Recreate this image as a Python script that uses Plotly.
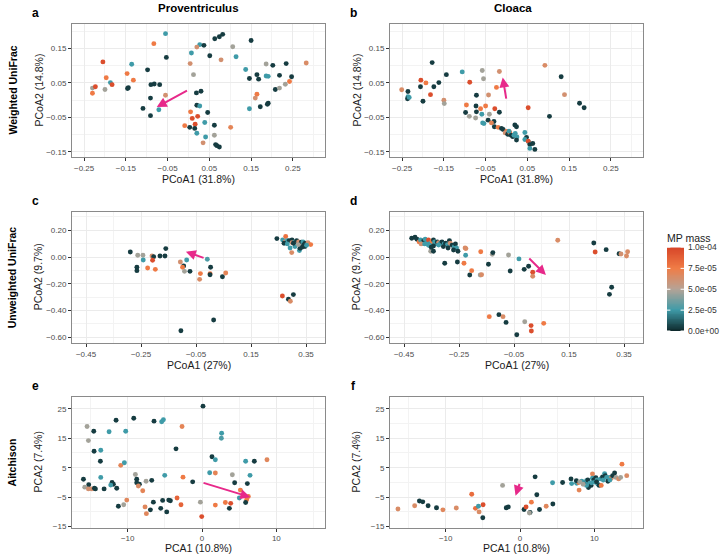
import plotly.graph_objects as go

# ---------------- data (x, y, MP mass in units of 1e-5) ----------------
prov_weighted = [
    (-0.055,0.193,2.5),(-0.083,0.164,7.6),(0.027,0.161,2.5),(0.007,0.137,2.5),(0.020,0.154,6.2),
    (0.037,0.159,0.4),(0.063,0.178,0.4),(0.074,0.184,0.4),(0.082,0.191,0.4),(0.106,0.155,4.6),
    (0.150,0.173,0.4),(-0.053,0.124,0.4),(-0.205,0.111,9.6),(-0.136,0.104,2.5),(0.004,0.106,6.2),
    (0.051,0.129,0.4),(0.078,0.117,6.2),(0.114,0.126,2.5),(-0.098,0.088,0.4),(-0.147,0.077,7.6),
    (0.012,0.074,4.6),(0.137,0.089,2.5),(0.164,0.074,0.4),(0.186,0.105,4.6),(0.202,0.101,0.4),
    (0.234,0.106,0.4),(-0.197,0.065,7.6),(-0.132,0.058,7.6),(-0.187,0.051,2.5),(-0.183,0.045,9.6),
    (-0.090,0.045,0.4),(-0.082,0.047,0.4),(-0.069,0.045,0.4),(-0.230,0.035,4.6),(-0.223,0.039,9.6),
    (-0.200,0.031,4.6),(-0.144,0.036,0.4),(-0.146,0.034,0.4),(0.146,0.063,0.4),(0.168,0.061,0.4),
    (0.186,0.070,2.5),(0.191,0.069,2.5),(0.218,0.072,0.4),(0.247,0.068,0.4),(0.242,0.054,7.6),
    (0.232,0.046,4.6),(0.282,0.108,6.5),(-0.230,0.020,7.6),(-0.055,0.014,6.2),(0.030,0.026,0.4),
    (0.019,0.021,0.4),(0.164,0.017,7.6),(0.160,0.006,6.2),(0.208,0.031,0.4),(0.218,0.035,4.6),
    (-0.091,0.006,0.4),(0.020,-0.015,0.4),(0.027,-0.017,2.5),(0.005,-0.034,7.6),(0.022,-0.047,9.6),
    (0.009,-0.053,9.6),(0.046,-0.036,0.4),(-0.109,-0.024,0.4),(-0.071,-0.028,2.5),(-0.091,-0.045,0.4),
    (0.146,-0.025,2.5),(0.172,-0.019,0.4),(0.191,-0.009,0.4),(0.189,-0.012,0.4),(-0.009,-0.074,7.6),
    (0.003,-0.079,0.4),(0.016,-0.070,9.6),(0.015,-0.082,0.4),(0.039,-0.065,2.5),(0.062,-0.073,0.4),
    (0.101,-0.079,7.0),(0.020,-0.096,2.5),(0.041,-0.107,2.5),(0.062,-0.102,4.6),(0.035,-0.124,6.2),
    (0.065,-0.129,0.4),(0.068,-0.132,0.4),(0.074,-0.136,0.4),
]

cloaca_weighted = [
    (-0.178,0.109,0.4),(-0.106,0.082,2.5),(-0.058,0.086,4.6),(-0.055,0.062,4.6),(-0.017,0.083,6.2),
    (0.092,0.101,6.5),(-0.144,0.074,0.4),(0.131,0.068,0.4),(-0.251,0.030,6.5),(-0.236,0.025,0.4),
    (-0.236,0.010,2.5),(-0.237,0.004,0.4),(-0.233,0.008,2.5),(-0.205,0.058,9.6),(-0.193,0.050,7.6),
    (-0.206,0.039,0.4),(-0.174,0.039,0.4),(-0.162,0.051,0.4),(-0.182,0.016,9.6),(-0.200,-0.003,0.4),
    (-0.150,0.000,6.2),(-0.149,-0.010,4.6),(-0.088,0.052,9.6),(-0.024,0.037,7.6),(-0.043,0.015,6.2),
    (-0.072,0.014,0.4),(0.139,0.016,6.2),(0.175,-0.009,0.4),(0.186,-0.022,0.4),(0.103,-0.047,0.4),
    (-0.096,-0.014,7.6),(-0.073,-0.017,0.4),(-0.050,-0.017,7.6),(-0.062,-0.025,7.6),(-0.028,-0.025,9.6),
    (-0.017,-0.035,0.4),(-0.041,-0.041,4.6),(0.052,-0.022,9.6),(-0.098,-0.036,0.4),(-0.072,-0.034,0.4),
    (-0.089,-0.047,4.6),(-0.074,-0.052,4.6),(-0.059,-0.041,2.5),(-0.057,-0.066,2.5),(-0.054,-0.068,2.5),
    (-0.044,-0.058,0.4),(-0.030,-0.062,0.4),(-0.036,-0.066,7.0),(-0.029,-0.077,0.4),(-0.020,-0.079,7.6),
    (-0.012,-0.082,0.4),(-0.008,-0.085,0.4),(0.000,-0.091,7.6),(-0.003,-0.095,6.2),(0.003,-0.099,0.4),
    (0.008,-0.094,7.6),(0.011,-0.102,0.4),(0.015,-0.106,0.4),(0.018,-0.102,2.5),(0.021,-0.097,2.5),
    (0.025,-0.107,2.5),(0.020,-0.072,0.4),(0.024,-0.077,0.4),(0.006,-0.090,2.5),(0.044,-0.094,2.5),
    (0.048,-0.108,0.4),(0.044,-0.114,2.5),(0.053,-0.121,2.5),(0.052,-0.119,9.6),(0.056,-0.129,0.4),
    (0.063,-0.126,0.4),(0.056,-0.140,2.5),(0.068,-0.143,0.4),(0.024,-0.116,0.4),
]

prov_unweighted = [
    (-0.289,0.038,0.4),(-0.262,0.013,4.6),(-0.243,0.013,4.6),(-0.242,-0.022,2.5),(-0.265,-0.077,0.4),
    (-0.265,-0.102,0.4),(-0.210,0.008,6.2),(-0.204,0.003,0.4),(-0.181,0.008,0.4),(-0.163,0.008,0.4),
    (-0.160,0.063,0.4),(-0.208,-0.024,9.6),(-0.226,-0.082,7.6),(-0.198,-0.092,7.6),(-0.107,-0.037,6.2),
    (-0.095,-0.067,0.4),(-0.099,-0.077,7.6),(-0.092,-0.107,4.6),(-0.084,-0.022,2.5),(-0.072,-0.107,0.4),
    (-0.034,-0.124,7.6),(-0.037,-0.167,6.5),(-0.009,-0.017,2.8),(0.003,-0.077,0.4),(0.001,-0.124,7.6),
    (0.001,-0.132,0.4),(0.046,-0.147,0.4),(0.058,-0.119,7.0),(-0.105,-0.551,0.4),(0.014,-0.471,0.4),
    (0.264,-0.291,9.6),(0.304,-0.281,0.4),(0.286,-0.316,0.4),(0.293,-0.331,6.5),
    (0.244,0.138,0.4),(0.265,0.128,2.5),(0.276,0.153,8.0),(0.274,0.113,6.2),(0.282,0.123,2.5),
    (0.289,0.123,0.4),(0.299,0.128,0.4),(0.299,0.108,6.2),(0.309,0.113,2.5),(0.316,0.123,0.4),
    (0.323,0.113,6.2),(0.333,0.110,0.4),(0.339,0.113,2.5),(0.347,0.103,0.4),(0.357,0.108,6.2),
    (0.367,0.093,7.6),(0.270,0.103,0.4),(0.292,0.068,2.5),(0.298,0.033,6.5),(0.310,0.078,2.5),
    (0.326,0.048,2.5),(0.328,0.065,0.4),(0.335,0.073,0.4),(0.346,0.078,0.4),(0.343,0.093,0.4),
    (0.352,0.088,2.5),(0.322,0.093,4.6),(0.304,0.103,0.4),(0.282,0.098,2.5),
]

cloaca_unweighted = [
    (-0.422,0.140,0.4),(-0.410,0.148,0.4),(-0.403,0.133,0.4),(-0.395,0.113,7.6),(-0.390,0.128,2.5),
    (-0.383,0.103,2.5),(-0.378,0.123,0.4),(-0.373,0.133,2.5),(-0.365,0.113,2.5),(-0.361,0.128,9.6),
    (-0.354,0.103,2.5),(-0.348,0.118,7.6),(-0.343,0.128,0.4),(-0.339,0.113,2.5),(-0.334,0.098,2.5),
    (-0.329,0.113,0.4),(-0.324,0.108,6.2),(-0.317,0.103,2.5),(-0.312,0.113,0.4),(-0.304,0.098,2.5),
    (-0.299,0.103,0.4),(-0.292,0.093,2.5),(-0.285,0.123,0.4),(-0.282,0.103,6.2),(-0.275,0.088,0.4),
    (-0.267,0.078,2.5),(-0.263,0.098,0.4),(-0.259,0.068,2.5),(-0.270,0.053,0.4),(-0.254,0.043,0.4),
    (-0.353,0.043,4.6),(-0.343,0.043,0.4),(-0.343,0.083,0.4),(-0.388,0.098,6.2),(-0.375,0.098,2.5),
    (-0.361,0.088,2.5),(-0.351,0.073,0.4),(-0.324,0.090,2.5),(-0.307,0.078,0.4),(-0.290,0.068,0.4),
    (-0.302,-0.047,0.4),(-0.256,-0.037,0.4),(-0.228,0.068,6.5),(-0.225,0.063,6.5),(-0.226,0.013,2.5),
    (-0.232,-0.047,7.6),(-0.211,-0.134,0.4),(-0.204,-0.102,7.6),(-0.173,-0.134,4.6),(-0.168,-0.132,6.5),
    (-0.171,0.040,7.6),(-0.143,-0.054,0.4),(-0.129,0.020,4.6),(-0.127,0.033,0.4),(-0.070,0.015,4.6),
    (-0.032,-0.014,2.5),(-0.064,-0.104,0.4),(-0.013,-0.092,0.4),(0.003,-0.069,0.4),(0.018,-0.114,9.6),
    (0.018,-0.144,6.5),(0.109,0.125,6.5),(0.240,0.105,0.4),(0.245,0.038,9.6),(0.285,0.055,0.4),
    (0.332,0.025,0.4),(0.339,0.023,6.2),(0.359,0.008,6.5),(0.363,0.040,6.5),(0.297,-0.279,0.4),
    (0.305,-0.226,0.4),(-0.140,-0.446,7.6),(-0.105,-0.431,0.4),(-0.090,-0.446,6.5),(-0.079,-0.489,0.4),
    (-0.011,-0.484,4.6),(0.012,-0.513,9.6),(0.013,-0.553,9.6),(0.058,-0.496,7.6),(-0.040,-0.581,0.4),
]

prov_aitchison = [
    (0.13,25.9,0.4),(-15.47,19.0,4.6),(-11.57,21.1,0.4),(-9.19,21.8,0.4),(-6.46,20.8,0.4),
    (-5.43,20.6,2.5),(-5.20,21.3,2.5),(-2.69,19.0,7.0),(-14.57,17.4,0.4),(-15.29,14.2,4.6),
    (-12.51,17.2,2.5),(-10.27,17.4,2.5),(2.64,16.7,2.5),(2.60,15.0,2.8),(-14.53,10.6,0.4),
    (-13.63,10.9,2.5),(-13.68,7.2,0.4),(-3.50,11.4,0.4),(1.34,8.7,0.4),(1.79,7.7,2.5),
    (-10.94,5.8,7.0),(-10.45,6.7,2.5),(-13.63,1.7,2.5),(-15.96,1.1,0.4),(-15.25,-0.8,0.4),
    (-15.78,-1.6,4.6),(-15.29,-2.2,6.2),(-14.84,-2.2,6.2),(-14.48,-2.0,0.4),(-14.35,-2.2,0.4),
    (-13.18,-2.2,0.4),(-12.11,0.0,0.4),(-11.93,-0.6,0.4),(-11.48,-2.0,0.4),(-12.29,-0.9,2.5),
    (-8.97,2.7,4.6),(-8.79,1.1,0.4),(-8.79,-0.1,0.4),(-8.43,-0.6,0.4),(-8.57,-1.2,6.5),
    (-7.98,-2.8,7.0),(-7.53,0.4,4.6),(-6.77,0.7,0.4),(-5.02,2.4,2.5),(-2.56,1.8,7.6),
    (-1.26,0.2,0.4),(1.03,3.3,2.5),(1.79,3.2,7.0),(5.87,7.2,2.5),(7.04,7.2,0.4),
    (8.74,7.7,6.8),(4.08,2.6,4.6),(4.39,-0.1,0.4),(6.10,-0.4,0.4),(6.46,2.4,2.5),
    (5.16,-2.6,7.6),(5.02,-5.3,2.5),(6.01,-5.9,7.6),(5.87,-6.8,0.4),(6.23,-4.8,7.6),
    (-10.13,-6.0,6.8),(-10.54,-7.6,4.6),(-11.26,-8.1,0.4),(-7.67,-8.3,6.8),(-7.49,-10.6,6.8),
    (-6.95,-9.3,0.4),(-5.56,-8.8,0.4),(-5.30,-6.1,0.4),(-6.55,-6.7,0.4),(-4.75,-10.0,0.4),
    (-4.48,-6.0,0.4),(-4.26,-6.2,0.4),(-3.36,-5.3,8.6),(-2.83,-7.6,8.6),(-0.22,-6.7,4.6),
    (-0.04,-11.6,9.6),(1.79,-7.7,7.6),(3.14,-6.8,7.6),(3.68,-8.8,0.4),(3.86,-7.1,9.6),
]

cloaca_aitchison = [
    (-16.43,-9.0,6.5),(-14.18,-7.9,6.5),(-13.54,-6.3,0.4),(-13.09,-6.6,0.4),(-12.37,-7.9,0.4),
    (-11.24,-8.6,0.4),(-10.38,-9.3,6.8),(-8.58,-8.7,6.5),(-6.50,-4.0,8.2),(-6.00,-8.8,8.2),
    (-5.60,-8.1,2.5),(-4.97,-7.6,9.6),(-5.51,-10.0,6.5),(-5.01,-12.0,0.4),(-2.35,-1.0,4.6),
    (-1.85,-8.6,0.4),(-1.58,-8.3,0.4),(0.54,-9.2,0.4),(0.81,-8.3,9.6),(1.35,-10.2,0.4),
    (1.26,-10.4,4.6),(1.53,-6.7,7.6),(2.03,1.9,0.4),(2.26,-4.2,0.4),(2.62,-9.2,0.4),
    (3.52,-8.1,6.8),(4.42,-7.3,0.4),(4.38,-0.1,2.5),(5.73,0.0,0.4),
    (6.86,1.2,0.4),(6.95,-0.4,2.5),(7.63,-0.3,2.5),(7.90,0.0,7.6),(7.58,0.6,0.4),
    (7.95,-2.6,7.0),(8.31,0.4,2.5),(8.58,0.0,2.5),(8.80,-0.4,0.4),(8.94,0.6,2.5),
    (9.12,0.8,0.4),(9.21,-1.7,0.4),(9.39,-0.3,2.5),(9.57,-1.0,0.4),(9.75,2.9,6.8),
    (9.75,1.4,2.5),(9.93,0.8,0.4),(10.11,0.1,2.5),(10.20,1.6,0.4),(10.38,0.8,2.5),
    (10.47,-0.6,2.5),(10.65,-1.0,0.4),(10.84,1.2,2.5),(10.93,-1.0,7.6),(11.11,1.9,0.4),
    (11.20,0.8,2.5),(11.38,3.0,2.5),(11.47,2.3,0.4),(11.65,1.7,2.5),(11.83,0.4,0.4),
    (12.01,1.7,2.5),(12.28,1.4,6.5),(12.46,2.3,0.4),(12.73,3.2,0.4),(12.91,1.7,4.6),
    (13.27,1.2,6.5),(13.54,1.7,4.6),(13.72,6.2,7.6),(14.36,2.3,6.5),(8.94,-1.0,2.5),
    (8.49,-0.6,4.6),(8.04,0.2,4.6),(9.62,-0.1,2.5),(10.29,0.2,0.4),(12.10,0.8,2.5),
]

# arrows: (tail_x, tail_y, head_x, head_y)
arrows = [
    (0.0, 0.03, -0.076, -0.02),
    (0.0, 0.0, -0.009, 0.066),
    (-0.017, -0.01, -0.087, 0.04),
    (0.0, 0.0, 0.066, -0.135),
    (0.0, 0.0, 6.5, -5.0),
    (0.0, 0.0, -0.6, -4.5),
]

col_titles = ["Proventriculus", "Cloaca"]
row_titles = ["Weighted UniFrac", "Unweighted UniFrac", "Aitchison"]
panel_letters = ["a", "b", "c", "d", "e", "f"]
x_titles = ["PCoA1 (31.8%)", "PCoA1 (27%)", "PCA1 (10.8%)"]
y_titles = ["PCoA2 (14.8%)", "PCoA2 (9.7%)", "PCA2 (7.4%)"]
cbar_title = "MP mass"
cbar_tickvals = [0, 2.5, 5, 7.5, 10]
cbar_ticktext = ["0.0e+00", "2.5e-05", "5.0e-05", "7.5e-05", "1.0e-04"]
cbar_levels = [i / 10 for i in range(101)]   # gradient steps for the legend bar

panels = [prov_weighted, cloaca_weighted, prov_unweighted, cloaca_unweighted,
          prov_aitchison, cloaca_aitchison]

# ---------------- styling / layout ----------------
W, H = 720, 555
FONT = "Liberation Sans, Arial, sans-serif"
colorscale = [[0.0, "#0e2a2d"], [0.25, "#3f9ba8"], [0.5, "#b6a396"],
              [0.75, "#f07c46"], [1.0, "#d74528"]]

col_px = [(72, 325), (390, 643)]
row_px = [(24, 157), (211.7, 343), (397.3, 527.5)]

row_axes = [
    dict(xr=[-0.279, 0.327], yr=[-0.165, 0.221], xt0=-0.25, xd=0.1, yt0=-0.15, yd=0.1, fmt=".2f"),
    dict(xr=[-0.501, 0.419], yr=[-0.643, 0.339], xt0=-0.45, xd=0.2, yt0=-0.6, yd=0.2, fmt=".2f"),
    dict(xr=[-17.5, 16.55], yr=[-15.3, 28.9], xt0=-10, xd=10, yt0=-15, yd=10, fmt="d"),
]

def px2paper(x, y):
    return x / W, 1 - y / H

fig = go.Figure()
annotations = []
shapes = []

for i, pts in enumerate(panels):
    r, c = divmod(i, 2)
    k = "" if i == 0 else str(i + 1)
    xs = [p[0] for p in pts]
    ys = [p[1] for p in pts]
    ms = [p[2] for p in pts]
    fig.add_trace(go.Scatter(
        x=xs, y=ys, mode="markers", xaxis="x" + k, yaxis="y" + k,
        marker=dict(size=4.9, color=ms, cmin=0, cmax=10, colorscale=colorscale,
                    line=dict(width=0), showscale=False),
        showlegend=False, hoverinfo="skip"))

    ra = row_axes[r]
    x0, x1 = col_px[c]
    y0, y1 = row_px[r]
    common = dict(showline=True, mirror=True, linecolor="#8a8a8a", linewidth=1,
                  ticks="outside", ticklen=3, tickcolor="#333333", tickwidth=1,
                  showgrid=True, gridcolor="#ebebeb", gridwidth=1, zeroline=False,
                  tickfont=dict(size=8, family=FONT, color="#4d4d4d"),
                  tickformat=ra["fmt"], tickmode="linear", automargin=False)
    fig.layout["xaxis" + k] = dict(
        domain=[x0 / W, x1 / W], range=ra["xr"], tick0=ra["xt0"], dtick=ra["xd"],
        anchor="y" + k, ticklabelstandoff=0,
        minor=dict(tick0=ra["xt0"], dtick=ra["xd"] / 2, showgrid=True, gridcolor="#f3f3f3", gridwidth=0.6, ticks=""),
        **common)
    fig.layout["yaxis" + k] = dict(
        domain=[1 - y1 / H, 1 - y0 / H], range=ra["yr"], tick0=ra["yt0"], dtick=ra["yd"],
        anchor="x" + k,
        minor=dict(tick0=ra["yt0"], dtick=ra["yd"] / 2, showgrid=True, gridcolor="#f3f3f3", gridwidth=0.6, ticks=""),
        **common)

    # arrow
    tx, ty, hx, hy = arrows[i]
    annotations.append(dict(
        xref="x" + k, yref="y" + k, axref="x" + k, ayref="y" + k,
        x=hx, y=hy, ax=tx, ay=ty, text="", showarrow=True,
        arrowhead=2, arrowsize=1, arrowwidth=2, arrowcolor="#e7298a", standoff=0))

    # axis titles
    xc = (x0 + x1) / 2
    if r < 2:
        px_, py_ = px2paper(xc, y1 + 22)
        yanc = "middle"
    else:
        px_, py_ = px2paper(xc, H)
        yanc = "bottom"
    annotations.append(dict(xref="paper", yref="paper", x=px_, y=py_, text=x_titles[r],
                            showarrow=False, xanchor="center", yanchor=yanc, borderpad=0,
                            font=dict(size=10.5, family=FONT, color="#1a1a1a")))
    px_, py_ = px2paper(x0 - 34, (y0 + y1) / 2)
    annotations.append(dict(xref="paper", yref="paper", x=px_, y=py_, text=y_titles[r],
                            showarrow=False, textangle=-90, xanchor="center", yanchor="middle",
                            borderpad=0, font=dict(size=10.5, family=FONT, color="#1a1a1a")))
    # panel letters
    px_, py_ = px2paper(35 if c == 0 else 353, y0 - 11)
    annotations.append(dict(xref="paper", yref="paper", x=px_, y=py_, text="<b>%s</b>" % panel_letters[i],
                            showarrow=False, xanchor="center", yanchor="middle", borderpad=0,
                            font=dict(size=12, family=FONT, color="black")))

# ---- colour legend drawn as a thin heatmap on its own axes ----
cb_x0, cb_x1, cb_y0, cb_y1 = 667, 684, 247.5, 331
fig.add_trace(go.Heatmap(
    z=[[v] for v in cbar_levels], x=[0], y=cbar_levels, colorscale=colorscale,
    zmin=0, zmax=10, showscale=False, xaxis="x7", yaxis="y7", hoverinfo="skip"))
fig.layout["xaxis7"] = dict(domain=[cb_x0 / W, cb_x1 / W], range=[-0.5, 0.5], anchor="y7",
                            showgrid=False, zeroline=False, showticklabels=False, ticks="",
                            showline=False, fixedrange=True)
fig.layout["yaxis7"] = dict(domain=[1 - cb_y1 / H, 1 - cb_y0 / H], range=[0, 10], anchor="x7",
                            side="right", showgrid=False, zeroline=False, showline=False,
                            tickmode="array", tickvals=cbar_tickvals, ticktext=cbar_ticktext,
                            ticks="", ticklabelstandoff=3,
                            tickfont=dict(size=8.5, family=FONT, color="#333333"),
                            fixedrange=True, automargin=False)
for v in cbar_tickvals:
    for xa, xb in ((-0.5, -0.3), (0.3, 0.5)):
        shapes.append(dict(type="line", xref="x7", yref="y7", x0=xa, x1=xb, y0=v, y1=v,
                           line=dict(color="white", width=1)))
px_, py_ = px2paper(cb_x0 - 1, 238)
annotations.append(dict(xref="paper", yref="paper", x=px_, y=py_, text=cbar_title,
                        showarrow=False, xanchor="left", yanchor="middle", borderpad=0,
                        font=dict(size=10.5, family=FONT, color="#1a1a1a")))

# column titles
for c, t in enumerate(col_titles):
    px_, py_ = px2paper([198, 513][c], 8)
    annotations.append(dict(xref="paper", yref="paper", x=px_, y=py_, text="<b>%s</b>" % t,
                            showarrow=False, xanchor="center", yanchor="middle", borderpad=0,
                            font=dict(size=11.5, family=FONT, color="black")))
# row titles
for r, t in enumerate(row_titles):
    y0, y1 = row_px[r]
    px_, py_ = px2paper(12, (y0 + y1) / 2)
    annotations.append(dict(xref="paper", yref="paper", x=px_, y=py_, text="<b>%s</b>" % t,
                            showarrow=False, textangle=-90, xanchor="center", yanchor="middle",
                            borderpad=0, font=dict(size=10.5, family=FONT, color="black")))

fig.update_layout(width=W, height=H, margin=dict(l=0, r=0, t=0, b=0, autoexpand=False),
                  paper_bgcolor="white", plot_bgcolor="white",
                  annotations=annotations, shapes=shapes, font=dict(family=FONT))

fig.write_html("out.html", config={"displayModeBar": False},
               post_script="document.body.style.margin='0';document.body.style.padding='0';")
